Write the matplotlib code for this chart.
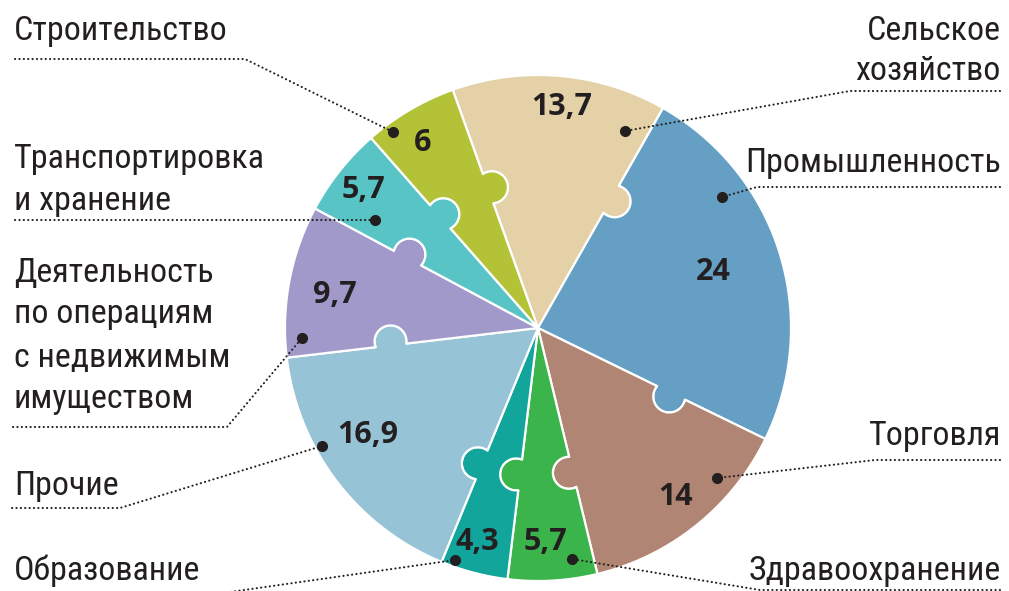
import numpy as np
import matplotlib.pyplot as plt
from matplotlib.patches import Polygon
from matplotlib import font_manager

sectors = ['Сельское хозяйство', 'Промышленность', 'Торговля', 'Здравоохранение',
           'Образование', 'Прочие', 'Деятельность по операциям с недвижимым имуществом',
           'Транспортировка и хранение', 'Строительство']
shares = [13.7, 24, 14, 5.7, 4.3, 16.9, 9.7, 5.7, 6]
value_labels = ['13,7', '24', '14', '5,7', '4,3', '16,9', '9,7', '5,7', '6']
colors = ['#e4d1a7', '#659fc4', '#b18574', '#3bb54b', '#12a59c',
          '#97c3d6', '#a099c9', '#59c4c6', '#b3c236']

# label text lines as printed
label_lines = [
    ['Сельское', 'хозяйство'], ['Промышленность'], ['Торговля'], ['Здравоохранение'],
    ['Образование'], ['Прочие'], ['Деятельность', 'по операциям', 'с недвижимым', 'имуществом'],
    ['Транспортировка', 'и хранение'], ['Строительство'],
]
label_side = ['r', 'r', 'r', 'r', 'l', 'l', 'l', 'l', 'l']
label_base = [[40, 80], [172], [445], [580], [580], [495], [282, 323, 367, 408], [168, 210], [40]]
leaders = [
    [(1000, 91), (850, 91), (625, 131)],
    [(1000, 187), (757, 187), (722, 197)],
    [(1000, 460), (875, 460), (717, 478)],
    [(1000, 590), (760, 590), (572, 559)],
    [(12, 592), (230, 592), (455, 560)],
    [(12, 508), (120, 508), (322, 446)],
    [(13, 427), (227, 427), (302, 338)],
    [(15, 220), (375, 220)],
    [(15, 59), (245, 59), (393, 132)],
]
value_pos = [(562, 107), (713, 272), (676, 497), (545, 542), (477, 542),
             (368, 435), (335, 295), (363, 190), (423, 143)]

W, H = 1009, 591
cx, cy, R = 538, 328, 253
start = 109.7
knob_s, knob_d, knob_r = 148, 4, 16
ink = '#231f20'

names = {f.name for f in font_manager.fontManager.ttflist}
pref = ['Roboto Condensed', 'PT Sans Narrow', 'Open Sans Condensed',
        'IBM Plex Sans Condensed', 'Liberation Sans Narrow']
label_font = next((f for f in pref if f in names), 'DejaVu Sans')

fig = plt.figure(figsize=(W / 100, H / 100), dpi=100)
ax = fig.add_axes([0, 0, 1, 1])
ax.set_xlim(0, W)
ax.set_ylim(H, 0)
ax.axis('off')

bounds = start - 360 * np.concatenate([[0], np.cumsum(shares)]) / 100


def pt(a, r):
    t = np.radians(a)
    return np.array([cx + r * np.cos(t), cy - r * np.sin(t)])


def boundary(a):
    # radius line with a round puzzle knob bulging clockwise
    t = np.radians(a)
    u = np.array([np.cos(t), -np.sin(t)])
    n = np.array([np.sin(t), np.cos(t)])
    c0 = np.array([cx, cy])
    h = np.sqrt(knob_r ** 2 - knob_d ** 2)
    kc = c0 + knob_s * u + knob_d * n
    p1 = np.arctan2(-knob_d, -h) + 2 * np.pi
    p2 = np.arctan2(-knob_d, h)
    phi = np.linspace(p1, p2, 40)
    arc = [kc + knob_r * (np.cos(f) * u + np.sin(f) * n) for f in phi]
    return [c0] + arc + [c0 + R * u]


for k in range(len(shares)):
    a0, a1 = bounds[k], bounds[k + 1]
    rim = [pt(a, R) for a in np.linspace(a0, a1, 80)]
    poly = np.array(boundary(a0) + rim + boundary(a1)[::-1])
    ax.add_patch(Polygon(poly, closed=True, facecolor=colors[k], edgecolor='white',
                         linewidth=1.6, joinstyle='round'))

for k in range(len(shares)):
    x, y = value_pos[k]
    ax.text(x, y, value_labels[k], ha='center', va='center', fontsize=22,
            fontweight='bold', family=['Open Sans', 'DejaVu Sans'], color=ink)
    xs, ys = zip(*leaders[k])
    ax.plot(xs, ys, color=ink, linewidth=1.5, linestyle=(0, (0.1, 2.0)),
            dash_capstyle='round')
    ax.plot(xs[-1], ys[-1], 'o', color=ink, markersize=7)
    tx = 1001 if label_side[k] == 'r' else 14
    ha = 'right' if label_side[k] == 'r' else 'left'
    for line, yb in zip(label_lines[k], label_base[k]):
        ax.text(tx, yb, line, ha=ha, va='baseline', fontsize=24.5,
                family=[label_font, 'DejaVu Sans'], fontstretch='condensed', color=ink)

fig.savefig('out.png', dpi=100)
